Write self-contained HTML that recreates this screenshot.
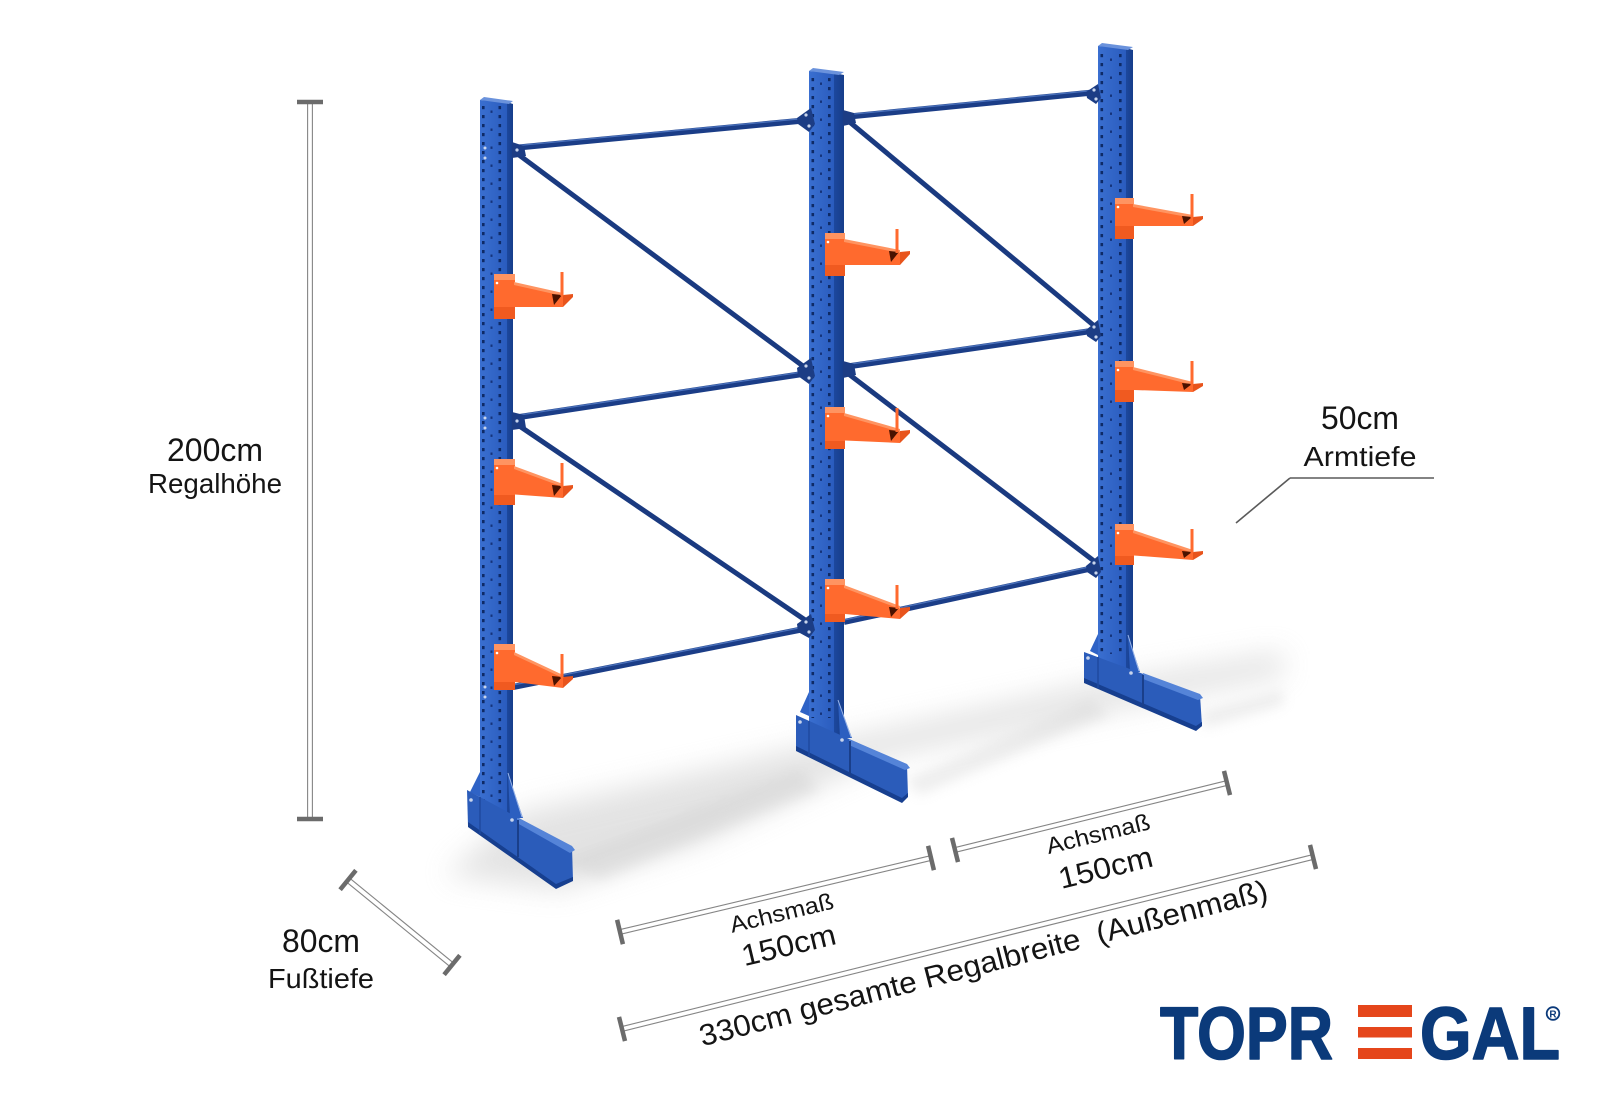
<!DOCTYPE html>
<html>
<head>
<meta charset="utf-8">
<style>
  html,body{margin:0;padding:0;background:#fff;}
  svg{display:block;}
  .lbl{font-family:"Liberation Sans",Arial,sans-serif;fill:#141414;}
</style>
</head>
<body>
<svg width="1600" height="1100" viewBox="0 0 1600 1100" xmlns="http://www.w3.org/2000/svg">
  <defs>
    <filter id="blur14" x="-20%" y="-50%" width="140%" height="200%"><feGaussianBlur stdDeviation="14"/></filter>
    <filter id="blur6" x="-20%" y="-50%" width="140%" height="200%"><feGaussianBlur stdDeviation="6"/></filter>
    <linearGradient id="front" x1="0" y1="0" x2="1" y2="0">
      <stop offset="0" stop-color="#3a6fd0"/>
      <stop offset="1" stop-color="#2a5cbe"/>
    </linearGradient>
    <linearGradient id="side" x1="0" y1="0" x2="1" y2="0">
      <stop offset="0" stop-color="#1d489e"/>
      <stop offset="1" stop-color="#163d8a"/>
    </linearGradient>
    <pattern id="p1" x="480" y="106" width="27" height="18" patternUnits="userSpaceOnUse">
      <rect x="2" y="0" width="2.6" height="3.2" fill="#0e2a66"/>
      <rect x="18.5" y="0" width="2.6" height="3.2" fill="#0e2a66"/>
      <rect x="2" y="9" width="2.6" height="3.2" fill="#0e2a66"/>
      <rect x="18.5" y="9" width="2.6" height="3.2" fill="#0e2a66"/>
      <rect x="10.5" y="4.5" width="2" height="2.4" fill="#15337a"/>
    </pattern>
    <pattern id="p2" x="809" y="78" width="25" height="18" patternUnits="userSpaceOnUse">
      <rect x="2.5" y="0" width="2.6" height="3.2" fill="#0e2a66"/>
      <rect x="19" y="0" width="2.6" height="3.2" fill="#0e2a66"/>
      <rect x="2.5" y="9" width="2.6" height="3.2" fill="#0e2a66"/>
      <rect x="19" y="9" width="2.6" height="3.2" fill="#0e2a66"/>
      <rect x="11" y="4.5" width="2" height="2.4" fill="#15337a"/>
    </pattern>
    <pattern id="p3" x="1098" y="54" width="28" height="18" patternUnits="userSpaceOnUse">
      <rect x="2.5" y="0" width="2.6" height="3.2" fill="#0e2a66"/>
      <rect x="21" y="0" width="2.6" height="3.2" fill="#0e2a66"/>
      <rect x="2.5" y="9" width="2.6" height="3.2" fill="#0e2a66"/>
      <rect x="21" y="9" width="2.6" height="3.2" fill="#0e2a66"/>
      <rect x="12" y="4.5" width="2" height="2.4" fill="#15337a"/>
    </pattern>
  </defs>

  <rect width="1600" height="1100" fill="#fff"/>

  <!-- floor shadows -->
  <path d="M445,875 L520,812 L800,748 L1090,684 L1283,652 L1283,676 L1090,714 L880,758 L700,842 L560,890 Z" fill="#bdbdbd" opacity="0.42" filter="url(#blur14)"/>
  <path d="M560,860 L800,770 L820,790 L600,880 Z" fill="#c8c8c8" opacity="0.3" filter="url(#blur6)"/>
  <path d="M905,780 L1090,700 L1110,715 L920,795 Z" fill="#c8c8c8" opacity="0.3" filter="url(#blur6)"/>
  <path d="M1200,712 L1283,690 L1283,705 L1205,728 Z" fill="#c8c8c8" opacity="0.3" filter="url(#blur6)"/>

  <!-- beams and diagonals -->
  <g stroke-linecap="butt" fill="none">
    <g stroke="#1b3d87" stroke-width="6">
      <line x1="513" y1="148" x2="809" y2="120"/>
      <line x1="513" y1="418" x2="809" y2="373"/>
      <line x1="513" y1="687" x2="809" y2="628"/>
      <line x1="844" y1="117" x2="1098" y2="92"/>
      <line x1="844" y1="367" x2="1098" y2="330"/>
      <line x1="844" y1="622" x2="1098" y2="567"/>
    </g>
    <g stroke="#4a71bb" stroke-width="1.3">
      <line x1="513" y1="146" x2="809" y2="118"/>
      <line x1="513" y1="416" x2="809" y2="371"/>
      <line x1="513" y1="685" x2="809" y2="626"/>
      <line x1="844" y1="115" x2="1098" y2="90"/>
      <line x1="844" y1="365" x2="1098" y2="328"/>
      <line x1="844" y1="620" x2="1098" y2="565"/>
    </g>
    <g stroke="#1a3a80" stroke-width="5">
      <line x1="515" y1="152" x2="811" y2="372"/>
      <line x1="515" y1="423" x2="811" y2="624"/>
      <line x1="846" y1="119" x2="1098" y2="329"/>
      <line x1="846" y1="372" x2="1098" y2="564"/>
    </g>
  </g>

  <!-- posts -->
  <g>
    <!-- post 1 -->
    <polygon points="480,100 507,102 507,815 480,815" fill="url(#front)"/>
    <rect x="480" y="106" width="27" height="700" fill="url(#p1)"/>
    <polygon points="507,102 513,104 513,815 507,815" fill="url(#side)"/>
    <polygon points="480,100 484,97 513,101 509,104" fill="#6a92dc"/>
    <polygon points="480,772 470,792 480,797" fill="#2f63c6"/>
    <!-- post 2 -->
    <polygon points="809,71 834,73 834,745 809,745" fill="url(#front)"/>
    <rect x="809" y="78" width="25" height="640" fill="url(#p2)"/>
    <polygon points="834,73 844,75 844,745 834,745" fill="url(#side)"/>
    <polygon points="809,71 813,68 844,72 839,75" fill="#6a92dc"/>
    <polygon points="809,692 800,712 809,716" fill="#2f63c6"/>
    <!-- post 3 -->
    <polygon points="1098,46 1126,48 1126,675 1098,675" fill="url(#front)"/>
    <rect x="1098" y="54" width="28" height="600" fill="url(#p3)"/>
    <polygon points="1126,48 1133,50 1133,675 1126,675" fill="url(#side)"/>
    <polygon points="1098,46 1102,43 1133,47 1128,50" fill="#6a92dc"/>
    <polygon points="1098,634 1090,651 1098,655" fill="#2f63c6"/>
  </g>

  <!-- joint plates -->
  <g fill="#1c3d85">
    <polygon points="512,142 524,146 526,156 512,158"/>
    <polygon points="512,412 524,415 526,428 512,430"/>
    <polygon points="797,118 811,108 815,124 809,132 798,124"/>
    <polygon points="797,368 811,358 815,376 809,384 798,376"/>
    <polygon points="797,624 811,614 815,630 809,638 798,632"/>
    <polygon points="843,110 854,113 856,123 843,126"/>
    <polygon points="843,361 854,364 856,375 843,378"/>
    <polygon points="1086,92 1098,84 1101,98 1096,104 1087,98"/>
    <polygon points="1086,330 1098,320 1101,336 1096,342 1087,336"/>
    <polygon points="1086,566 1098,556 1101,572 1096,578 1087,572"/>
  </g>
  <g fill="#c9d5ec">
    <circle cx="517" cy="150" r="1.6"/><circle cx="517" cy="421" r="1.6"/>
    <circle cx="806" cy="115" r="1.6"/><circle cx="809" cy="126" r="1.6"/>
    <circle cx="806" cy="366" r="1.6"/><circle cx="809" cy="378" r="1.6"/>
    <circle cx="806" cy="622" r="1.6"/><circle cx="809" cy="632" r="1.6"/>
    <circle cx="1094" cy="90" r="1.6"/><circle cx="1096" cy="99" r="1.6"/>
    <circle cx="1094" cy="327" r="1.6"/><circle cx="1096" cy="337" r="1.6"/>
    <circle cx="1094" cy="563" r="1.6"/><circle cx="1096" cy="573" r="1.6"/>
    <circle cx="485" cy="148" r="1.5"/><circle cx="485" cy="158" r="1.5"/>
    <circle cx="485" cy="418" r="1.5"/><circle cx="485" cy="428" r="1.5"/>
    <circle cx="485" cy="687" r="1.5"/><circle cx="485" cy="697" r="1.5"/>
  </g>

  <!-- feet -->
  <g>
    <!-- foot 1 -->
    <polygon points="467,790 572,847 573,880 556,888 468,826" fill="#2b5cba"/>
    <polygon points="468,822 556,884 573,877 573,881 556,889 468,827" fill="#173f8f"/>
    <polygon points="517,817 572,846 575,850 570,853 517,823" fill="#5584d8"/>
    <line x1="518" y1="820" x2="518" y2="857" stroke="#1a3f8a" stroke-width="2"/>
    <line x1="480" y1="797" x2="480" y2="834" stroke="#1f4a9f" stroke-width="1.5"/>
    <polygon points="508,773 523,818 510,818" fill="#2c5fc0"/>
    <line x1="508" y1="773" x2="522" y2="817" stroke="#9bb6e8" stroke-width="1"/>
    <circle cx="471" cy="800" r="1.8" fill="#c9d5ec"/>
    <circle cx="512" cy="820" r="1.8" fill="#c9d5ec"/>
    <!-- foot 2 -->
    <polygon points="796,715 907,765 908,796 902,802 796,750" fill="#2b5cba"/>
    <polygon points="796,746 902,798 908,793 908,797 902,803 796,751" fill="#173f8f"/>
    <polygon points="849,739 907,764 910,768 905,770 849,745" fill="#5584d8"/>
    <line x1="850" y1="741" x2="850" y2="776" stroke="#1a3f8a" stroke-width="2"/>
    <line x1="809" y1="721" x2="809" y2="756" stroke="#1f4a9f" stroke-width="1.5"/>
    <polygon points="838,700 852,738 840,738" fill="#2c5fc0"/>
    <line x1="838" y1="700" x2="851" y2="737" stroke="#9bb6e8" stroke-width="1"/>
    <circle cx="800" cy="722" r="1.8" fill="#c9d5ec"/>
    <circle cx="842" cy="740" r="1.8" fill="#c9d5ec"/>
    <!-- foot 3 -->
    <polygon points="1084,652 1200,695 1202,726 1196,730 1084,682" fill="#2b5cba"/>
    <polygon points="1084,678 1196,726 1202,722 1202,726 1196,731 1084,683" fill="#173f8f"/>
    <polygon points="1143,673 1200,694 1203,698 1198,700 1143,679" fill="#5584d8"/>
    <line x1="1143" y1="675" x2="1143" y2="707" stroke="#1a3f8a" stroke-width="2"/>
    <line x1="1098" y1="657" x2="1098" y2="688" stroke="#1f4a9f" stroke-width="1.5"/>
    <polygon points="1128,635 1140,672 1130,672" fill="#2c5fc0"/>
    <line x1="1128" y1="635" x2="1139" y2="671" stroke="#9bb6e8" stroke-width="1"/>
    <circle cx="1088" cy="658" r="1.8" fill="#c9d5ec"/>
    <circle cx="1131" cy="673" r="1.8" fill="#c9d5ec"/>
  </g>

  <!-- arms -->
  <g>
    <!-- Post 1 A1 -->
    <rect x="494" y="274" width="21" height="45" fill="#f05a20"/>
    <rect x="494" y="280" width="21" height="27" fill="#ff6a2e"/>
    <rect x="494" y="274" width="21" height="6" fill="#ff9461"/>
    <polygon points="515,283 563,294 563,307 515,307" fill="#ff6a2e"/>
    <polygon points="514,282 563,293 563,296 514,285" fill="#ff9461"/>
    <polygon points="552,294 562,295 554,305" fill="#4a1200"/>
    <polygon points="563,295 573,294 573,297 563,307" fill="#e8541c"/>
    <rect x="560.5" y="272" width="3" height="24" fill="#ff6a2e"/>
    <circle cx="497" cy="283" r="1.3" fill="#fff"/>
    <!-- Post 1 A2 -->
    <rect x="494" y="459" width="21" height="46" fill="#f05a20"/>
    <rect x="494" y="465" width="21" height="30" fill="#ff6a2e"/>
    <rect x="494" y="459" width="21" height="6" fill="#ff9461"/>
    <polygon points="515,467 563,485 563,498 515,494.5" fill="#ff6a2e"/>
    <polygon points="514,466 563,484 563,487 514,469" fill="#ff9461"/>
    <polygon points="552,485 562,486 554,496" fill="#4a1200"/>
    <polygon points="563,486 573,485 573,488 563,498" fill="#e8541c"/>
    <rect x="560.5" y="463" width="3" height="24" fill="#ff6a2e"/>
    <circle cx="497" cy="468" r="1.3" fill="#fff"/>
    <!-- Post 1 A3 -->
    <rect x="494" y="644" width="21" height="46" fill="#f05a20"/>
    <rect x="494" y="650" width="21" height="32" fill="#ff6a2e"/>
    <rect x="494" y="644" width="21" height="6" fill="#ff9461"/>
    <polygon points="515,653 563,676 563,688 515,682" fill="#ff6a2e"/>
    <polygon points="514,652 563,675 563,678 514,655" fill="#ff9461"/>
    <polygon points="552,676 562,677 554,686" fill="#4a1200"/>
    <polygon points="563,677 573,676 573,679 563,688" fill="#e8541c"/>
    <rect x="560.5" y="654" width="3" height="24" fill="#ff6a2e"/>
    <circle cx="497" cy="653" r="1.3" fill="#fff"/>

    <!-- Post 2 A1 -->
    <rect x="825" y="233" width="20" height="43" fill="#f05a20"/>
    <rect x="825" y="239" width="20" height="26" fill="#ff6a2e"/>
    <rect x="825" y="233" width="20" height="6" fill="#ff9461"/>
    <polygon points="845,240 900,251 900,265 845,265" fill="#ff6a2e"/>
    <polygon points="844,239 900,250 900,253 844,242" fill="#ff9461"/>
    <polygon points="889,251 899,252 891,262" fill="#4a1200"/>
    <polygon points="900,252 910,251 910,254 900,265" fill="#e8541c"/>
    <rect x="895.5" y="229" width="3" height="24" fill="#ff6a2e"/>
    <circle cx="828" cy="242" r="1.3" fill="#fff"/>
    <!-- Post 2 A2 -->
    <rect x="825" y="407" width="20" height="42" fill="#f05a20"/>
    <rect x="825" y="413" width="20" height="28" fill="#ff6a2e"/>
    <rect x="825" y="407" width="20" height="6" fill="#ff9461"/>
    <polygon points="845,414 900,430 900,443 845,440.5" fill="#ff6a2e"/>
    <polygon points="844,413 900,429 900,432 844,416" fill="#ff9461"/>
    <polygon points="889,430 899,431 891,441" fill="#4a1200"/>
    <polygon points="900,431 910,430 910,433 900,443" fill="#e8541c"/>
    <rect x="895.5" y="408" width="3" height="24" fill="#ff6a2e"/>
    <circle cx="828" cy="416" r="1.3" fill="#fff"/>
    <!-- Post 2 A3 -->
    <rect x="825" y="579" width="20" height="43" fill="#f05a20"/>
    <rect x="825" y="585" width="20" height="29" fill="#ff6a2e"/>
    <rect x="825" y="579" width="20" height="6" fill="#ff9461"/>
    <polygon points="845,586 900,607 900,619 845,614" fill="#ff6a2e"/>
    <polygon points="844,585 900,606 900,609 844,588" fill="#ff9461"/>
    <polygon points="889,607 899,608 891,617" fill="#4a1200"/>
    <polygon points="900,608 910,607 910,610 900,619" fill="#e8541c"/>
    <rect x="895.5" y="585" width="3" height="24" fill="#ff6a2e"/>
    <circle cx="828" cy="588" r="1.3" fill="#fff"/>

    <!-- Post 3 A1 -->
    <rect x="1115" y="198" width="19" height="41" fill="#f05a20"/>
    <rect x="1115" y="204" width="19" height="22" fill="#ff6a2e"/>
    <rect x="1115" y="198" width="19" height="6" fill="#ff9461"/>
    <polygon points="1134,205 1193,216 1193,226 1134,226" fill="#ff6a2e"/>
    <polygon points="1133,204 1193,215 1193,218 1133,207" fill="#ff9461"/>
    <polygon points="1182,216 1192,217 1184,224" fill="#4a1200"/>
    <polygon points="1193,217 1203,216 1203,219 1193,226" fill="#e8541c"/>
    <rect x="1190.5" y="194" width="3" height="24" fill="#ff6a2e"/>
    <circle cx="1118" cy="207" r="1.3" fill="#fff"/>
    <!-- Post 3 A2 -->
    <rect x="1115" y="361" width="19" height="41" fill="#f05a20"/>
    <rect x="1115" y="367" width="19" height="23" fill="#ff6a2e"/>
    <rect x="1115" y="361" width="19" height="6" fill="#ff9461"/>
    <polygon points="1134,368 1193,383 1193,392 1134,390" fill="#ff6a2e"/>
    <polygon points="1133,367 1193,382 1193,385 1133,370" fill="#ff9461"/>
    <polygon points="1182,383 1192,384 1184,390" fill="#4a1200"/>
    <polygon points="1193,384 1203,383 1203,386 1193,392" fill="#e8541c"/>
    <rect x="1190.5" y="361" width="3" height="24" fill="#ff6a2e"/>
    <circle cx="1118" cy="370" r="1.3" fill="#fff"/>
    <!-- Post 3 A3 -->
    <rect x="1115" y="524" width="19" height="41" fill="#f05a20"/>
    <rect x="1115" y="530" width="19" height="26" fill="#ff6a2e"/>
    <rect x="1115" y="524" width="19" height="6" fill="#ff9461"/>
    <polygon points="1134,531 1193,551 1193,560 1134,555.5" fill="#ff6a2e"/>
    <polygon points="1133,530 1193,550 1193,553 1133,533" fill="#ff9461"/>
    <polygon points="1182,551 1192,552 1184,558" fill="#4a1200"/>
    <polygon points="1193,552 1203,551 1203,554 1193,560" fill="#e8541c"/>
    <rect x="1190.5" y="529" width="3" height="24" fill="#ff6a2e"/>
    <circle cx="1118" cy="533" r="1.3" fill="#fff"/>
  </g>

  <!-- dimension lines -->
  <g stroke="#858585" stroke-width="1.1" fill="none">
    <line x1="307.6" y1="102" x2="307.6" y2="819"/>
    <line x1="312.4" y1="102" x2="312.4" y2="819"/>
    <line x1="346.4" y1="881.9" x2="450.4" y2="966.9"/>
    <line x1="349.6" y1="878.1" x2="453.6" y2="963.1"/>
    <line x1="620.5" y1="934.3" x2="931.5" y2="860.3"/>
    <line x1="619.5" y1="929.7" x2="930.5" y2="855.7"/>
    <line x1="955.5" y1="852.3" x2="1227.5" y2="785.3"/>
    <line x1="954.5" y1="847.7" x2="1226.5" y2="780.7"/>
    <line x1="622.6" y1="1031.3" x2="1313.6" y2="859.3"/>
    <line x1="621.4" y1="1026.7" x2="1312.4" y2="854.7"/>
  </g>
  <g stroke="#6b6b6b" stroke-width="4.5" stroke-linecap="butt">
    <line x1="297" y1="102" x2="323" y2="102"/>
    <line x1="297" y1="819" x2="323" y2="819"/>
    <line x1="340.1" y1="889.7" x2="355.9" y2="870.3"/>
    <line x1="444.1" y1="974.7" x2="459.9" y2="955.3"/>
    <line x1="617.1" y1="919.8" x2="622.9" y2="944.2"/>
    <line x1="928.1" y1="845.8" x2="933.9" y2="870.2"/>
    <line x1="952" y1="837.9" x2="958" y2="862.1"/>
    <line x1="1224" y1="770.9" x2="1230" y2="795.1"/>
    <line x1="619" y1="1016.9" x2="625" y2="1041.1"/>
    <line x1="1310" y1="844.9" x2="1316" y2="869.1"/>
  </g>

  <!-- Armtiefe leader -->
  <g stroke="#5a5a5a" stroke-width="1.6" fill="none">
    <line x1="1290" y1="478" x2="1434" y2="478"/>
    <line x1="1290" y1="478" x2="1236" y2="523"/>
  </g>

  <!-- labels -->
  <g class="lbl">
    <text x="215" y="461" font-size="32" text-anchor="middle" textLength="96" lengthAdjust="spacingAndGlyphs">200cm</text>
    <text x="215" y="493" font-size="28" text-anchor="middle" textLength="134" lengthAdjust="spacingAndGlyphs">Regalhöhe</text>
    <text x="321" y="952" font-size="32" text-anchor="middle" textLength="78" lengthAdjust="spacingAndGlyphs">80cm</text>
    <text x="321" y="988" font-size="28" text-anchor="middle" textLength="106" lengthAdjust="spacingAndGlyphs">Fußtiefe</text>
    <text x="1360" y="429" font-size="32" text-anchor="middle" textLength="78" lengthAdjust="spacingAndGlyphs">50cm</text>
    <text x="1360" y="466" font-size="28" text-anchor="middle" textLength="113" lengthAdjust="spacingAndGlyphs">Armtiefe</text>

    <text transform="translate(783.5,920.5) rotate(-13.5)" font-size="23" text-anchor="middle" textLength="106" lengthAdjust="spacingAndGlyphs">Achsmaß</text>
    <text transform="translate(791,955) rotate(-13.5)" font-size="30" text-anchor="middle" textLength="96" lengthAdjust="spacingAndGlyphs">150cm</text>
    <text transform="translate(1100,841.5) rotate(-13.8)" font-size="23" text-anchor="middle" textLength="106" lengthAdjust="spacingAndGlyphs">Achsmaß</text>
    <text transform="translate(1108,877.5) rotate(-13.8)" font-size="30" text-anchor="middle" textLength="96" lengthAdjust="spacingAndGlyphs">150cm</text>
    <text transform="translate(986,973) rotate(-14.5)" font-size="30" text-anchor="middle" textLength="586" lengthAdjust="spacingAndGlyphs" style="white-space:pre">330cm gesamte Regalbreite  (Außenmaß)</text>
  </g>

  <!-- logo -->
  <g font-family="'Liberation Sans',Arial,sans-serif" font-weight="bold" fill="#0b3a7a" stroke="#0b3a7a" stroke-width="1.6" stroke-linejoin="round">
    <text x="1160" y="1059" font-size="74" textLength="173" lengthAdjust="spacingAndGlyphs">TOPR</text>
    <text x="1420" y="1059" font-size="74" textLength="140" lengthAdjust="spacingAndGlyphs">GAL</text>
  </g>
  <rect x="1358" y="1005" width="54" height="12" fill="#e5461b"/>
  <rect x="1358" y="1027" width="54" height="10.5" fill="#e5461b"/>
  <rect x="1358" y="1048" width="54" height="11" fill="#e5461b"/>
  <circle cx="1553" cy="1013.5" r="6.3" fill="none" stroke="#0b3a7a" stroke-width="1.8"/>
  <text x="1553" y="1017.5" font-family="'Liberation Sans',Arial,sans-serif" font-weight="bold" font-size="10" fill="#0b3a7a" text-anchor="middle">R</text>
</svg>
</body>
</html>
